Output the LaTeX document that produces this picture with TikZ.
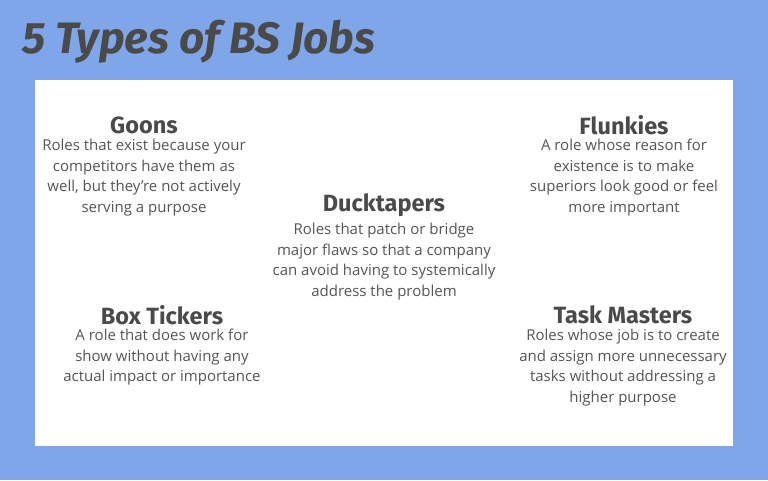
\documentclass[tikz,border=0pt]{standalone}
\usepackage{fontspec}
\setmainfont{Open Sans}
\newfontfamily\headfont{Fira Sans}
\definecolor{bgblue}{HTML}{7FA6E8}
\definecolor{dark}{HTML}{4A4A4A}
\definecolor{body}{HTML}{555555}
\begin{document}
\begin{tikzpicture}[x=1pt,y=-1pt,
  head/.style={font=\headfont\bfseries\fontsize{23.5}{27}\selectfont,text=dark,anchor=center,inner sep=0},
  desc/.style={font=\fontsize{15}{20.5}\selectfont,text=body,align=center,anchor=north,inner sep=0}]
\fill[bgblue] (0,0) rectangle (768,480);
\useasboundingbox (0,0) rectangle (768,480);
\fill[white] (35,80) rectangle (733,446);
\node[font=\headfont\bfseries\itshape\fontsize{44}{48}\selectfont,text=dark,anchor=west,inner sep=0] (title) at (22,42) {5 Types of BS Jobs};
\node[head] (h1) at (144,125) {Goons};
\node[desc] (d1) at (144,139) {Roles that exist because your\\competitors have them as\\well, but they're not actively\\serving a purpose};
\node[head] (h2) at (624,125) {Flunkies};
\node[desc] (d2) at (624,139) {A role whose reason for\\existence is to make\\superiors look good or feel\\more important};
\node[head] (h3) at (384,205) {Ducktapers};
\node[desc] (d3) at (384,223) {Roles that patch or bridge\\major flaws so that a company\\can avoid having to systemically\\address the problem};
\node[head] (h4) at (162,315) {Box Tickers};
\node[desc] (d4) at (162,329) {A role that does work for\\show without having any\\actual impact or importance};
\node[head] (h5) at (623,315) {Task Masters};
\node[desc] (d5) at (623,329) {Roles whose job is to create\\and assign more unnecessary\\tasks without addressing a\\higher purpose};
\end{tikzpicture}
\end{document}
